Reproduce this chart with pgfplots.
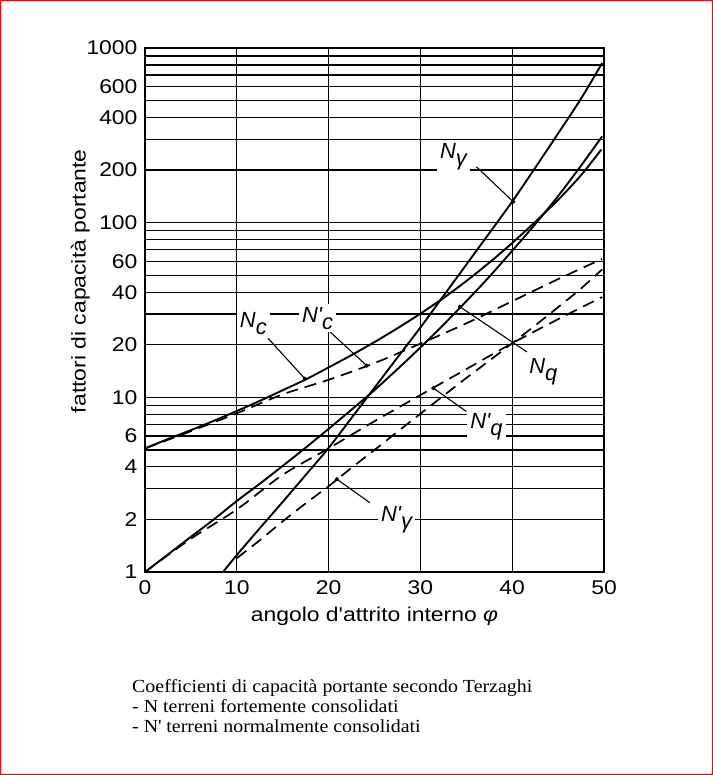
\documentclass[border=0pt]{standalone}
\usepackage{pgfplots}
\pgfplotsset{compat=1.18}
\usepackage{fontspec}
\setmainfont[FakeStretch=1.08]{Liberation Serif}
\newfontfamily\arial[FakeStretch=1.15]{Liberation Sans}
\newfontfamily\arialn{Liberation Sans}
\newcommand\tickfont{\arial\fontsize{20}{20}\selectfont}
\newcommand\labfont{\arial\fontsize{20}{20}\selectfont}
\newcommand\curvefont{\arialn\itshape\fontsize{22}{22}\selectfont}
\newcommand\sub[1]{\raisebox{-0.6ex}{#1}}

\begin{document}
\begin{tikzpicture}[x=1bp,y=1bp]
\useasboundingbox (0,0) rectangle (713,775);
\draw[red, line width=1.5bp] (0.75,0.75) rectangle (712.25,774.25);
\begin{axis}[
    at={(145bp,203bp)}, anchor=south west,
    scale only axis, width=459bp, height=524bp,
    xmin=0, xmax=50, ymin=1, ymax=1000, ymode=log,
    xtick={0,10,20,30,40,50},
    ytick={1,2,3,4,5,6,7,8,9,10,20,30,40,50,60,70,80,90,100,200,300,400,500,600,700,800,900,1000},
    yticklabels={1,2,,4,,6,,,,10,20,,40,,60,,,,100,200,,400,,600,,,,1000},
    grid=major,
    major grid style={black, line width=1.2bp},
    major tick length=0pt,
    axis line style={black, line width=1.4bp},
    tick label style={font=\tickfont},
    /pgf/number format/assume math mode=true,
    xticklabel style={yshift=-5bp},
    yticklabel style={xshift=-4bp},
    xlabel={angolo d'attrito interno {\itshape φ}},
    xlabel style={font=\labfont, yshift=-6bp},
    ylabel={fattori di capacità portante},
    every axis y label/.style={at={(axis description cs:-0.141,0.555)}, rotate=90, anchor=center, font=\labfont},
    clip=false,
]
% N (solid)
\addplot[black, line width=1.9bp, smooth] coordinates {
  (0,5.1) (2.5,5.77) (5,6.49) (7.5,7.34) (10,8.35) (12.5,9.54) (15,10.98)
  (17.5,12.65) (20,14.83) (22.5,17.45) (25,20.72) (27.5,24.85) (30,30.14)
  (32.5,37.0) (35,46.3) (37.5,59) (40,76.5) (42.5,101) (45,135) (47.5,187) (49.7,262)
};
\addplot[black, line width=1.9bp, smooth] coordinates {
  (0,1) (2.5,1.26) (5,1.59) (7.5,2.0) (10,2.55) (12.5,3.2) (15,4.05) (17.5,5.15)
  (20,6.6) (22.5,8.5) (25,11.0) (27.5,14.5) (30,19.3) (32.5,26) (35,35.5)
  (37.5,49) (40,69) (42.5,98) (45,142) (47.5,212) (49.8,312)
};
\addplot[black, line width=1.9bp, smooth] coordinates {
  (8.5,1) (10,1.25) (12.5,1.78) (15,2.52) (17.5,3.59) (20,5.13) (22.5,7.62)
  (25,11.35) (27.5,16.9) (30,25.1) (32.5,38) (35,57.5) (37.5,87) (40,132)
  (42.5,206) (45,324) (47.5,513) (49.8,820)
};
% N' (dashed)
\addplot[black, line width=1.7bp, dash pattern=on 12bp off 7bp, smooth] coordinates {
  (0,5.1) (5,6.4) (10,8.1) (15,10.4) (20,12.6) (25,15.7) (30,20.3) (35,26.5)
  (40,35.5) (45,47.5) (49.8,62)
};
\addplot[black, line width=1.7bp, dash pattern=on 12bp off 7bp, smooth] coordinates {
  (0,1) (5,1.55) (10,2.28) (15,3.6) (20,5.1) (25,7.3) (30,10.3) (35,14.5)
  (40,20.4) (45,28) (49.8,37.5)
};
\addplot[black, line width=1.7bp, dash pattern=on 12bp off 7bp, smooth] coordinates {
  (10,1.2) (12.5,1.52) (15,1.95) (17.5,2.47) (20,3.1) (22.5,3.95) (25,5.0)
  (27.5,6.35) (30,8.05) (32.5,10.2) (35,12.9) (37.5,16.2) (40,20.4) (42.5,25.8)
  (45,32.8) (47.5,42) (49.8,54)
};
% pointers
\addplot[black, line width=1.1bp, mark=*, mark size=1.5bp, mark indices={2}] coordinates {(13.4,21.8) (17.4,12.8)};
\addplot[black, line width=1.1bp, mark=*, mark size=1.5bp, mark indices={2}] coordinates {(20.15,23.7) (24.15,15.2)};
\addplot[black, line width=1.1bp, mark=*, mark size=1.5bp, mark indices={2}] coordinates {(36.1,209) (40.1,132)};
\addplot[black, line width=1.1bp, mark=*, mark size=1.5bp, mark indices={1}] coordinates {(34.3,33) (41.6,18.2)};
\addplot[black, line width=1.1bp, mark=*, mark size=1.5bp, mark indices={1}] coordinates {(31.4,11.3) (35.0,8.3)};
\addplot[black, line width=1.1bp, mark=*, mark size=1.5bp, mark indices={2}] coordinates {(24.5,2.49) (20.9,3.4)};
% labels
\node[fill=white, inner sep=3bp, font=\curvefont] at (axis cs:11.8,26.6) {N\sub{c}};
\node[fill=white, inner sep=3bp, font=\curvefont] at (axis cs:18.8,28.4) {N'\sub{c}};
\node[fill=white, inner sep=3bp, font=\curvefont] at (axis cs:33.6,238) {N\sub{γ}};
\node[fill=white, inner sep=3bp, font=\curvefont] at (axis cs:43.4,14.0) {N\sub{q}};
\node[fill=white, inner sep=3bp, font=\curvefont] at (axis cs:37.2,6.8) {N'\sub{q}};
\node[fill=white, inner sep=3bp, font=\curvefont] at (axis cs:27.4,2.0) {N'\sub{γ}};
\end{axis}
\node[anchor=base west, inner sep=0, font=\fontsize{18.5}{18.5}\selectfont] at (132,82) {Coefficienti di capacità portante secondo Terzaghi};
\node[anchor=base west, inner sep=0, font=\fontsize{18.5}{18.5}\selectfont] at (132,62) {- N terreni fortemente consolidati};
\node[anchor=base west, inner sep=0, font=\fontsize{18.5}{18.5}\selectfont] at (132,42) {- N\textquotesingle{} terreni normalmente consolidati};
\end{tikzpicture}
\end{document}
